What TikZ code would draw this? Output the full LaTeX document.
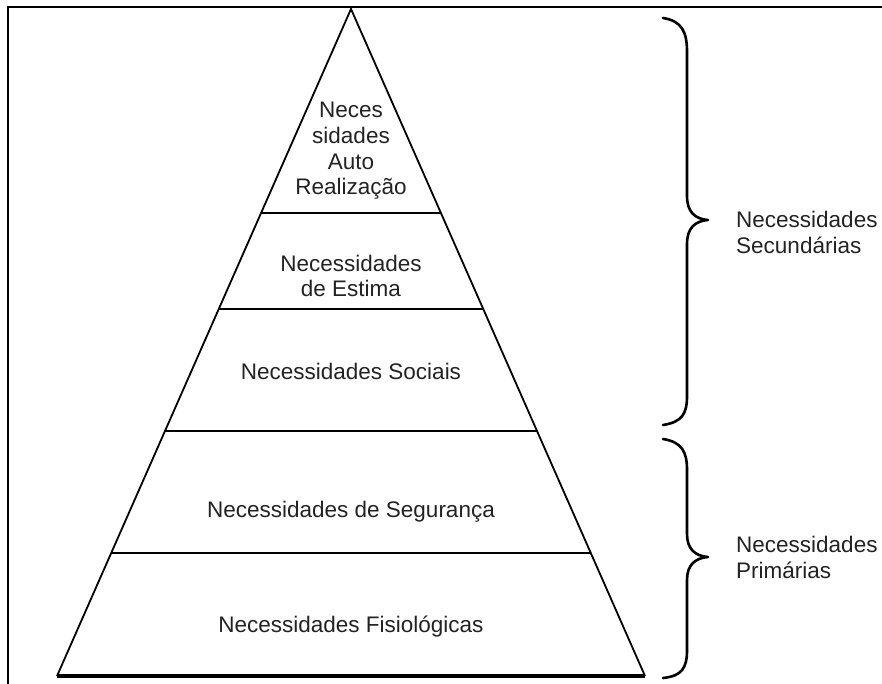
\documentclass[tikz,border=0pt]{standalone}
\usepackage{fontspec}
\setmainfont{Liberation Sans}
\usetikzlibrary{calc}
\definecolor{txt}{HTML}{222222}
\begin{document}
\begin{tikzpicture}[x=1pt,y=-1pt,
  slant/.style={line width=1.8pt,line join=miter},
  level/.style={line width=2.8pt},
  baseline/.style={line width=3.2pt},
  frameline/.style={line width=2.6pt},
  bracestyle/.style={line width=2.6pt,line cap=round,line join=round},
  lbl/.style={text=txt,font=\fontsize{22.5}{25.7}\selectfont,align=center,inner sep=0pt},
  side/.style={text=txt,font=\fontsize{22.5}{26}\selectfont,align=left,inner sep=0pt,anchor=west}]
\useasboundingbox (0,0) rectangle (882,684);
% frame (top and left edges visible)
\draw[frameline] (8,684) -- (8,7) -- (882,7);
% pyramid
\coordinate (apex) at (351,9);
\coordinate (bl) at (57,676);
\coordinate (br) at (645,676);
\draw[slant] (bl) -- (apex) -- (br);
\draw[baseline] (bl) -- (br);
\foreach \t/\n in {0.3058/a,0.4498/b,0.6327/c,0.8156/d}{
  \coordinate (L\n) at ($(apex)!\t!(bl)$);
  \coordinate (R\n) at ($(apex)!\t!(br)$);
  \draw[level] (L\n) -- (R\n);
}
% texts
\node[lbl] (auto) at (351,151) {Neces\\sidades\\Auto\\Realização};
\node[lbl] (estima) at (351,276) {Necessidades\\de Estima};
\node[lbl] (sociais) at (351,371) {Necessidades Sociais};
\node[lbl] (seg) at (351,512) {Necessidades de Segurança};
\node[lbl] (fisio) at (351,627) {Necessidades Fisiológicas};
% braces
\draw[bracestyle] (663,18) .. controls (682,21) and (687,32) .. (687,52) -- (687,196)
  .. controls (687,212) and (695,219) .. (708,220)
  .. controls (695,221) and (687,228) .. (687,244) -- (687,396)
  .. controls (687,414) and (682,422) .. (663,425);
\draw[bracestyle] (663,439) .. controls (682,442) and (687,452) .. (687,470) -- (687,534)
  .. controls (687,549) and (695,556) .. (708,557)
  .. controls (695,558) and (687,565) .. (687,580) -- (687,650)
  .. controls (687,668) and (682,676) .. (663,678);
\node[side] (sec) at (736,232) {Necessidades\\Secundárias};
\node[side] (pri) at (736,557) {Necessidades\\Primárias};
\end{tikzpicture}
\end{document}
